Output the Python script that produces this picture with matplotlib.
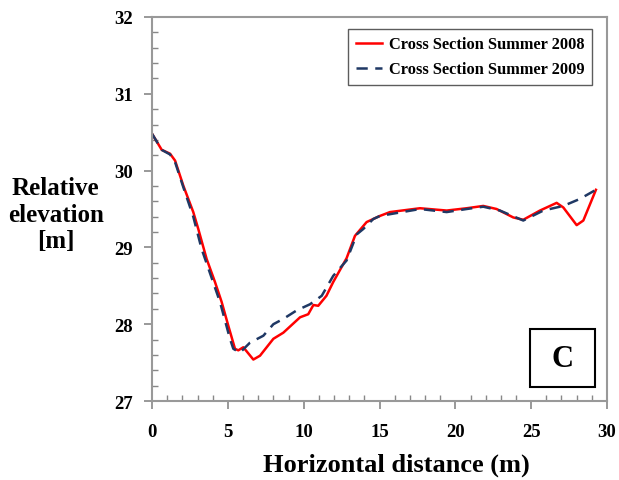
import numpy as np
import matplotlib.pyplot as plt
from matplotlib.ticker import MultipleLocator
from matplotlib.patches import Rectangle

# cross section profiles (horizontal distance in m, relative elevation in m)
x_2008 = [0.0, 0.64, 1.19, 1.52, 2.07, 2.72, 3.05, 3.6, 4.15, 4.59, 5.03, 5.47,
          5.69, 6.02, 6.68, 7.12, 8.0, 8.66, 9.76, 10.3, 10.64, 10.96, 11.5, 11.95,
          12.83, 13.38, 14.15, 15.03, 15.69, 17.67, 19.43, 20.75, 21.84, 22.72,
          23.82, 24.48, 25.58, 26.68, 27.12, 28.0, 28.44, 29.27]
y_2008 = [30.48, 30.27, 30.22, 30.13, 29.80, 29.46, 29.24, 28.85, 28.55, 28.29, 27.98, 27.68,
          27.66, 27.70, 27.54, 27.59, 27.81, 27.89, 28.09, 28.13, 28.25, 28.24, 28.37, 28.55,
          28.86, 29.15, 29.33, 29.41, 29.46, 29.51, 29.48, 29.51, 29.54, 29.50,
          29.39, 29.36, 29.48, 29.58, 29.52, 29.29, 29.35, 29.75]

x_2009 = [0.0, 0.64, 1.19, 1.52, 2.07, 2.72, 3.27, 4.48, 5.14, 5.36, 5.8, 6.46,
          7.34, 8.0, 8.66, 9.54, 10.42, 11.19, 11.95, 12.83, 13.5, 13.93, 14.59,
          15.03, 17.67, 19.43, 20.75, 21.84, 22.94, 24.48, 25.8, 27.12, 28.2, 29.27]
y_2009 = [30.48, 30.27, 30.21, 30.11, 29.78, 29.40, 28.98, 28.29, 27.81, 27.68, 27.63, 27.76,
          27.85, 28.00, 28.07, 28.18, 28.26, 28.37, 28.63, 28.83, 29.17, 29.24, 29.37,
          29.41, 29.50, 29.46, 29.50, 29.53, 29.48, 29.35, 29.48, 29.54, 29.63, 29.75]

label_2008 = 'Cross Section Summer 2008'
label_2009 = 'Cross Section Summer 2009'

plt.rcParams['font.family'] = ['Liberation Serif', 'DejaVu Serif']
plt.rcParams['font.weight'] = 'bold'

fig = plt.figure(figsize=(6.19, 4.81), dpi=100)
ax = fig.add_axes([0.2456, 0.1642, 0.735, 0.7984])

ax.plot(x_2008, y_2008, color='#ff0000', lw=1.8, label=label_2008)
ax.plot(x_2009, y_2009, color='#1f3864', lw=1.8, ls=(0, (4.5, 3)), label=label_2009)

ax.set_xlim(0, 30)
ax.set_ylim(27, 32)
ax.xaxis.set_major_locator(MultipleLocator(5))
ax.xaxis.set_minor_locator(MultipleLocator(1))
ax.yaxis.set_major_locator(MultipleLocator(1))
ax.yaxis.set_minor_locator(MultipleLocator(0.2))
ax.tick_params(which='major', direction='out', length=6, color='#888888', width=1.2,
               labelsize=13.5)
ax.tick_params(axis='x', which='major', pad=10)
ax.tick_params(axis='y', which='major', pad=8)
ax.tick_params(which='minor', direction='in', length=4, color='#888888', width=1)
for lab in ax.get_xticklabels() + ax.get_yticklabels():
    lab.set_fontweight('bold')
for sp in ax.spines.values():
    sp.set_color('#999999')
    sp.set_linewidth(1.5)

ax.set_xlabel('Horizontal distance (m)', fontsize=19, fontweight='bold')
ax.xaxis.set_label_coords(0.536, -0.135)
fig.text(0.09, 0.553, 'Relative\nelevation\n[m]', fontsize=18, fontweight='bold',
         ha='center', va='center', linespacing=1.2)

leg = ax.legend(loc='upper right', bbox_to_anchor=(0.968, 0.969),
                frameon=True, fancybox=False, handlelength=1.6, handletextpad=0.45,
                borderpad=0.45, labelspacing=0.55, borderaxespad=0,
                prop={'weight': 'bold', 'size': 11.8})
leg.get_frame().set_edgecolor('#333333')
leg.get_frame().set_linewidth(1)

# panel letter in a framed box
ax.add_patch(Rectangle((0.831, 0.0365), 0.143, 0.151, transform=ax.transAxes,
                       fc='white', ec='black', lw=1.5, zorder=5))
ax.text(0.9025, 0.112, 'C', transform=ax.transAxes, fontsize=22, fontweight='bold',
        ha='center', va='center', zorder=6)

fig.savefig('out.png', dpi=100)
